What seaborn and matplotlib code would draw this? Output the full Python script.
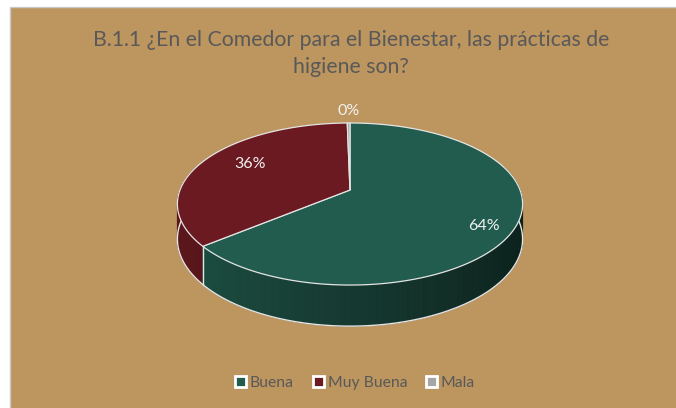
import numpy as np
import matplotlib
matplotlib.use("Agg")
import matplotlib.pyplot as plt
import seaborn as sns
from matplotlib.patches import Polygon, Rectangle, Patch
from matplotlib.colors import to_rgb

# ---- data ----
categories = ["Buena", "Muy Buena", "Mala"]
values = [64.0, 35.7, 0.3]
slice_colors = ["#215C4E", "#6A1A20", "#A6A6A6"]
title = "B.1.1 ¿En el Comedor para el Bienestar, las prácticas de\nhigiene son?"

# ---- style ----
sns.set_theme(style="white")
plt.rcParams['font.family'] = ['Lato', 'DejaVu Sans']
sns.set_palette(slice_colors)

BG = "#BC955F"
TXT = "#595959"
EDGE = "#E4E4E4"

fig = plt.figure(figsize=(6.76, 4.08), dpi=100, facecolor="white")
ax = fig.add_axes([0, 0, 1, 1])
ax.set_xlim(0, 676)
ax.set_ylim(408, 0)
ax.axis("off")
ax.add_patch(Rectangle((10, 7), 700, 430, facecolor=BG, edgecolor="#C8C8C8", lw=1, zorder=0))

# ---- 3D pie geometry (layout) ----
CX, CY, R, A, B, D = 350.0, 190.0, 170.0, 78.6, 0.173, 34.0


def proj(phi, r=1.0, drop=0.0):
    u = r * np.sin(phi)
    v = -r * np.cos(phi)
    d = 1 - B * v
    return CX + R * u / d, CY + (A * v + drop) / d


fr = np.concatenate([[0], np.cumsum(values)]) / np.sum(values)
angles = 2 * np.pi * fr

# side walls
quads = []
for i, (a0, a1) in enumerate(zip(angles[:-1], angles[1:])):
    n = max(2, int(np.degrees(a1 - a0) * 2)) + 1
    ph = np.linspace(a0, a1, n)
    base = np.array(to_rgb(slice_colors[i]))
    for p0, p1 in zip(ph[:-1], ph[1:]):
        pm = (p0 + p1) / 2
        depth = -np.cos(pm)
        if depth < -0.3:
            continue
        x0, y0 = proj(p0)
        x1, y1 = proj(p1)
        xb0, yb0 = proj(p0, drop=D)
        xb1, yb1 = proj(p1, drop=D)
        factor = np.clip(0.62 - 0.26 * np.sin(pm), 0.3, 0.84)
        c = base * factor
        quads.append((depth, [(x0, y0), (x1, y1), (xb1, yb1), (xb0, yb0)], c))
quads.sort(key=lambda q: q[0])
for _, pts, c in quads:
    ax.add_patch(Polygon(pts, closed=True, facecolor=c, edgecolor=c, lw=0.6, zorder=2))

# bottom outline
pb = np.linspace(np.pi / 2 - 0.05, 3 * np.pi / 2 + 0.05, 200)
xb, yb = proj(pb, drop=D)
ax.plot(xb, yb, color=EDGE, lw=1.0, zorder=3)

# seams
for a in angles[1:-1]:
    if -np.cos(a) > 0:
        x0, y0 = proj(a)
        x1, y1 = proj(a, drop=D)
        ax.plot([x0, x1], [y0, y1], color=EDGE, lw=1.0, zorder=3)

# top faces
for i, (a0, a1) in enumerate(zip(angles[:-1], angles[1:])):
    n = max(2, int(np.degrees(a1 - a0) * 2)) + 1
    ph = np.linspace(a0, a1, n)
    xs, ys = proj(ph)
    pts = [(CX, CY)] + list(zip(xs, ys))
    ax.add_patch(Polygon(pts, closed=True, facecolor=slice_colors[i], edgecolor=EDGE,
                         lw=0.9, joinstyle="round", zorder=4))

# data labels
label_r = [0.82, 0.68, 1.22]
label_dy = [7, -5, 0]
for i, (a0, a1) in enumerate(zip(angles[:-1], angles[1:])):
    pm = (a0 + a1) / 2
    x, y = proj(pm, r=label_r[i])
    ax.text(x, y + label_dy[i], f"{round(values[i]):.0f}%", ha="center", va="center",
            fontsize=11.5, color="#F2F2F2", zorder=5)

# title (two lines, baselines placed individually)
for line, yb_ in zip(title.split("\n"), [46, 73]):
    ax.text(351, yb_, line, ha="center", va="baseline", fontsize=15.3, color=TXT, zorder=5)

# legend
handles = [Patch(facecolor=c, edgecolor="white", lw=2) for c in slice_colors]
fig.legend(handles, categories, loc="center", bbox_to_anchor=(355 / 676, 1 - 383 / 408),
           ncol=3, frameon=False, fontsize=11.3, labelcolor=TXT, handlelength=0.7,
           handleheight=0.7, handletextpad=0.25, columnspacing=1.2)

fig.savefig("out.png", dpi=100, facecolor="white")
